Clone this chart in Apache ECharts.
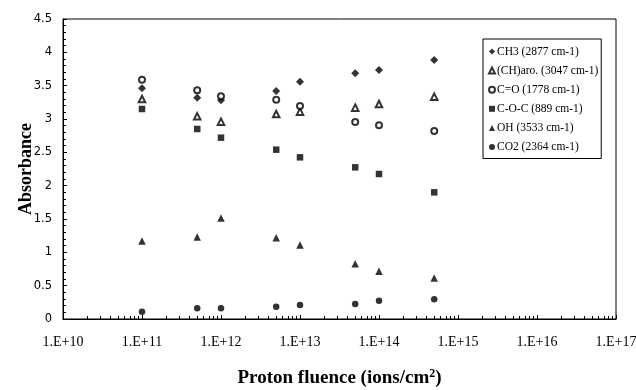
<!DOCTYPE html>
<html><head><meta charset="utf-8">
<script src="https://cdn.jsdelivr.net/npm/echarts@6/dist/echarts.min.js"></script>
<style>html,body{margin:0;padding:0;background:#fff}#c{width:636px;height:390px}</style>
</head><body><div id="c"></div>
<script>
const fluence = [1e11, 5e11, 1e12, 5e12, 1e13, 5e13, 1e14, 5e14];
const ch3   = [3.46, 3.32, 3.28, 3.42, 3.56, 3.685, 3.735, 3.885];
const chAro = [3.30, 3.04, 2.96, 3.075, 3.11, 3.17, 3.225, 3.335];
const co    = [3.59, 3.43, 3.34, 3.29, 3.195, 2.955, 2.905, 2.82];
const coc   = [3.15, 2.85, 2.72, 2.54, 2.425, 2.275, 2.175, 1.90];
const oh    = [1.17, 1.23, 1.515, 1.22, 1.11, 0.83, 0.715, 0.615];
const co2   = [0.11, 0.16, 0.16, 0.185, 0.21, 0.225, 0.275, 0.295];
const seriesNames = ['CH3 (2877 cm-1)', '(CH)aro. (3047 cm-1)', 'C=O (1778 cm-1)', 'C-O-C (889 cm-1)', 'OH (3533 cm-1)', 'CO2 (2364 cm-1)'];
const yTicks = ['0','0.5','1','1.5','2','2.5','3','3.5','4','4.5'];

const pair = arr => fluence.map((f, i) => [f, arr[i]]);
const symbols = ['diamond', 'emptyTriangle', 'emptyCircle', 'rect', 'triangle', 'circle'];
const sizes = [8, 6.5, 6, 6.5, 7.5, 6.5];
const data = [ch3, chAro, co, coc, oh, co2];

const chart = echarts.init(document.getElementById('c'), null, {renderer: 'canvas'});
chart.setOption({
  animation: false,
  backgroundColor: '#fff',
  grid: {left: 63, right: 20, top: 19, bottom: 71, show: true, borderColor: '#000', borderWidth: 1,
         containLabel: false, outerBoundsMode: 'none'},
  legend: {
    orient: 'vertical', left: 483, top: 39,
    borderColor: '#000', borderWidth: 1,
    padding: [6, 3, 5, 5],
    itemWidth: 6, itemHeight: 6, itemGap: 6.1,
    textStyle: {fontFamily: 'Liberation Serif', fontSize: 11.5, color: '#000', padding: [0,0,0,-3], lineHeight: 13},
    data: seriesNames
  },
  xAxis: {
    type: 'log', min: 1e10, max: 1e17, logBase: 10,
    axisLine: {lineStyle: {color: '#000', width: 1}},
    axisTick: {inside: true, length: 4, lineStyle: {color: '#000'}},
    minorTick: {show: true, splitNumber: 9, length: 3, lineStyle: {color: '#000'}},
    splitLine: {show: false},
    axisLabel: {
      margin: 16, color: '#000', fontFamily: 'Liberation Serif', fontSize: 14,
      formatter: v => '1.E+' + Math.round(Math.log10(v))
    },
    name: 'Proton fluence (ions/cm{sup|2})',
    nameLocation: 'middle', nameGap: 49,
    nameTextStyle: {
      fontFamily: 'Liberation Serif', fontWeight: 'bold', fontSize: 19, color: '#000',
      rich: {sup: {fontFamily: 'Liberation Serif', fontWeight: 'bold', fontSize: 12, verticalAlign: 'top', padding: [0,0,9,0], color: '#000'}}
    }
  },
  yAxis: {
    type: 'value', min: 0, max: 4.5, interval: 0.5,
    axisLine: {show: true, lineStyle: {color: '#000', width: 1}},
    axisTick: {inside: true, length: 4, lineStyle: {color: '#000'}},
    minorTick: {show: true, splitNumber: 5, length: 3, lineStyle: {color: '#000'}},
    splitLine: {show: false},
    axisLabel: {
      margin: 11, color: '#000', fontFamily: 'DejaVu Sans', fontSize: 11.5,
      formatter: v => yTicks[Math.round(v * 2)]
    },
    name: 'Absorbance', nameLocation: 'middle', nameGap: 28, nameMoveOverlap: false,
    nameTextStyle: {fontFamily: 'Liberation Serif', fontWeight: 'bold', fontSize: 18, color: '#000'}
  },
  series: seriesNames.map((n, i) => ({
    name: n, type: 'scatter', symbol: symbols[i], symbolSize: sizes[i],
    itemStyle: {color: '#000', borderColor: '#000', borderWidth: symbols[i].startsWith('empty') ? 1.2 : 0},
    data: pair(data[i])
  }))
});
</script></body></html>
